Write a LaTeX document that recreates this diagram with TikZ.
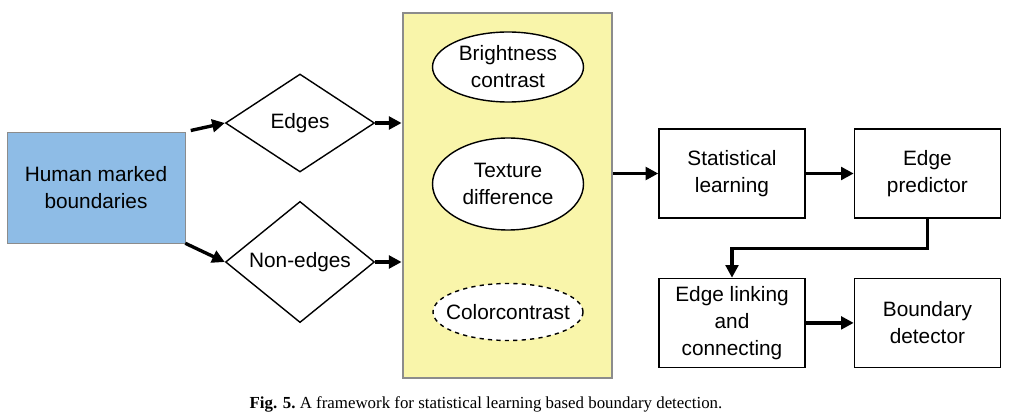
\documentclass[tikz,border=0pt]{standalone}
\usepackage{fontspec}
\setmainfont{Liberation Sans}
\newfontfamily\capfont{Liberation Serif}
\usepackage{xcolor}
\usetikzlibrary{shapes.geometric, arrows.meta, positioning}

\definecolor{hmblue}{HTML}{8EBCE6}
\definecolor{panelyellow}{HTML}{F9F5AA}
\definecolor{panelgray}{HTML}{8C8C8C}

\begin{document}
\begin{tikzpicture}[
  every node/.style={font=\fontsize{14.8}{19.2}\selectfont, align=center},
  box/.style={draw, line width=1pt, fill=white, minimum width=3.65cm, minimum height=2.225cm, inner sep=0pt},
  choice/.style={draw, diamond, line width=1pt, fill=white, minimum width=3.725cm, minimum height=2.45cm, inner sep=0pt},
  feat/.style={draw, ellipse, line width=1pt, fill=white, minimum width=3.775cm, inner sep=0pt},
  arrow/.style={-{Triangle[length=9pt, width=9pt]}, line width=2.4pt},
]
  \useasboundingbox (0,0) rectangle (25.8,10.475);

  \node (hmb) [draw=black!45, fill=hmblue, minimum width=4.45cm, minimum height=2.775cm] at (2.4,5.7875) {Human marked\\boundaries};
  \node (edges) [choice] at (7.5,7.4) {Edges};
  \node (nonedges) [choice] at (7.5,3.925) {Non-edges};

  % feature panel
  \node (panel) [draw=panelgray, line width=2pt, fill=panelyellow, minimum width=5.225cm, minimum height=9.125cm] at (12.6875,5.5875) {};
  \node (bc) [feat, minimum height=1.75cm] at (12.7,8.8) {Brightness\\contrast};
  \node (td) [feat, minimum height=2.3cm] at (12.7,5.875) {Texture\\difference};
  \node (cc) [feat, dashed, minimum width=3.75cm, minimum height=1.425cm, label={center:Colorcontrast}] at (12.7,2.675) {};

  \node (sl) [box] at (18.3,6.1375) {Statistical\\learning};
  \node (ep) [box, right=1.2cm of sl] {Edge\\predictor};
  \node (el) [box, below=1.475cm of sl] {Edge linking\\and\\connecting};
  \node (bd) [box, right=1.2cm of el] {Boundary\\detector};

  \draw[arrow, shorten <=4pt] (hmb.north east) -- (edges.west);
  \draw[arrow] (hmb.south east) -- (nonedges.west);
  \draw[arrow] (edges.east) -- (panel.west |- edges.east);
  \draw[arrow] (nonedges.east) -- (panel.west |- nonedges.east);
  \draw[arrow] (panel.east |- sl.west) -- (sl.west);
  \draw[arrow] (sl) -- (ep);
  \draw[arrow] (ep.south) -- ++(0,-0.75) -| (el.north);
  \draw[arrow] (el) -- (bd);

  \node (caption) at (12.15,0.375) {\capfont\fontsize{12}{14}\selectfont\textbf{Fig. 5.}\ A framework for statistical learning based boundary detection.};
\end{tikzpicture}
\end{document}
